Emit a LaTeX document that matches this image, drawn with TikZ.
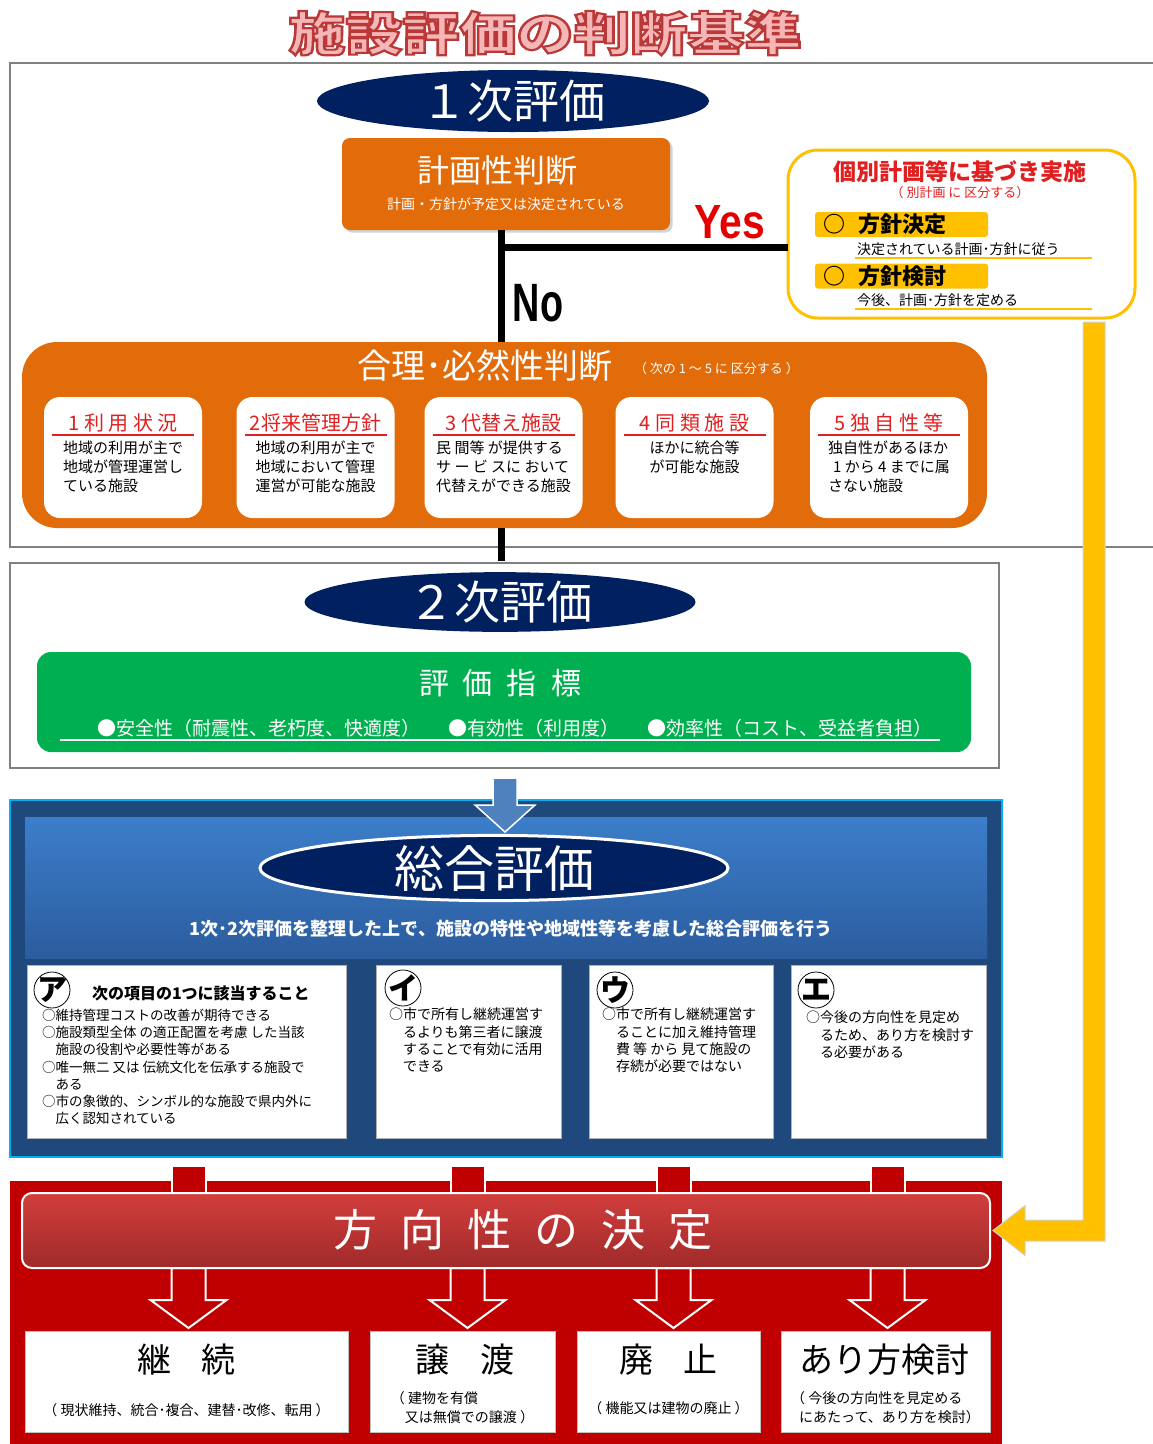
\documentclass[tikz,border=0pt]{standalone}
\usepackage{fontspec}
\setmainfont{Noto Sans CJK JP}
\newfontfamily\latin{Liberation Sans}
\usetikzlibrary{shapes.geometric,shadows,calc,backgrounds}

\newcommand\fsz[1]{\fontsize{#1}{#1}\selectfont}
\newcommand\kgap[1]{\hspace*{#1pt}}
\newcommand\outlined[1]{\special{pdf:literal direct 2 Tr 2.6 w 0.73 0.22 0.22 RG}#1\special{pdf:literal direct 0 Tr}}

\definecolor{navy}{RGB}{0,32,96}
\definecolor{planorange}{RGB}{227,108,10}
\definecolor{plangold}{RGB}{255,192,0}
\definecolor{markred}{RGB}{224,32,32}
\definecolor{indexgreen}{RGB}{0,176,80}
\definecolor{synthdark}{RGB}{31,73,125}
\definecolor{synthcyan}{RGB}{0,176,240}
\definecolor{synthtop}{RGB}{60,126,202}
\definecolor{synthbot}{RGB}{43,92,158}
\definecolor{arrowblue}{RGB}{79,129,189}
\definecolor{decidered}{RGB}{192,0,0}
\definecolor{bannertop}{RGB}{210,62,60}
\definecolor{bannerbot}{RGB}{160,42,42}
\definecolor{titlepink}{RGB}{244,182,182}
\definecolor{framegray}{RGB}{128,128,128}

\begin{document}
\begin{tikzpicture}[x=1pt,y=-1pt]
        \tikzstyle{every node}=[inner sep=0pt, outer sep=0pt]
        \tikzstyle{ovalhead}=[ellipse, fill=navy, text=white, font=\fsz{46}]
        \tikzstyle{trunk}=[line width=7, black]
        \tikzstyle{greyframe}=[draw=framegray, line width=2]
        \tikzstyle{subbox}=[rectangle, rounded corners=16, fill=white, minimum width=158, minimum height=121]
        \tikzstyle{subhead}=[text=markred, font=\fsz{20}]
        \tikzstyle{subbody}=[align=left, anchor=north, font=\fontsize{15}{19}\selectfont]
        \tikzstyle{goldbar}=[rectangle, rounded corners=3, fill=plangold, minimum width=173, minimum height=25]
        \tikzstyle{katabox}=[rectangle, fill=white, draw=gray!60, minimum height=173]
        \tikzstyle{kata}=[circle, draw, line width=0.8, minimum size=36]
        \tikzstyle{katatext}=[align=left, anchor=north west, font=\fontsize{14}{17.3}\selectfont]
        \tikzstyle{resultbox}=[rectangle, fill=white, draw=gray!50, minimum height=101]
        \tikzstyle{resulthead}=[font=\fsz{34}]
        \tikzstyle{resultnote}=[align=left, font=\fontsize{14}{19}\selectfont]
        \tikzstyle{redarrow}=[fill=decidered, draw=white, line width=2]
        \useasboundingbox (0,0) rectangle (1153,1444);

        % title
        \node[font=\bfseries\fsz{57}, yscale=0.82, transform shape, text=titlepink] (title) at (545,33) {\outlined{施設評価の判断基準}};

        % 1st evaluation
        \draw[greyframe] (1153,63) -- (10,63) -- (10,547) -- (1153,547);
        \node[ovalhead, minimum width=392, minimum height=62] (first) at (513,101) {１次評価};
        \node[rectangle, rounded corners=8, fill=planorange, minimum width=328, minimum height=92, drop shadow={opacity=0.35}] (plan) at (506,184) {};
        \node[text=white, font=\fsz{32}] at (497,170) {計画性判断};
        \node[text=white, font=\fsz{14}] at (506,204) {計画・方針が予定又は決定されている};

        \node[rectangle, rounded corners=35, fill=planorange, minimum width=965, minimum height=186] (judge) at (504.5,435) {};
        \node[text=white, font=\fsz{34}] (jtitle) at (485,366) {合理･必然性判断};
        \node[text=white, font=\fsz{13}, anchor=west] (jnote) at (634,369) {（ 次の 1 ～ 5 に 区分する ）};
        \foreach \n/\x/\head/\body in {1/123/{1 利 用 状 況}/{地域の利用が主で\\地域が管理運営し\\ている施設},
                2/315.5/{2将来管理方針}/{地域の利用が主で\\地域において管理\\運営が可能な施設},
                3/503.5/{3 代替え施設}/{民 間等 が提供する\\サ ー ビ スに おいて\\代替えができる施設},
                4/694.5/{4 同 類 施 設}/{ほかに統合等\\が可能な施設},
                5/889/{5 独 自 性 等}/{独自性があるほか\\\kgap{5}1 から 4 までに属\\さない施設}} {
            \node[subbox] (sub\n) at (\x,457.5) {};
            \node[subhead] at (\x,423) {\head};
            \draw[markred, line width=1.5] ($(sub\n.north west)+(8,38)$) -- ($(sub\n.north east)+(-8,38)$);
            \node[subbody] at (\x,441) {\body};
        }

        % yes / no
        \coordinate (stem) at (501,0);
        \coordinate (fork) at (501,247);
        \node[rectangle, rounded corners=30, draw=plangold, line width=3, fill=white, minimum width=347, minimum height=168] (yesbox) at (961.5,234) {};
        \draw[trunk] (plan.south -| stem) -- (judge.north -| stem);
        \draw[trunk] (fork) -- (fork -| yesbox.west);
        \node[font=\latin\bfseries\fsz{48}, text=red!90!black, xscale=0.85, transform shape] (yes) at (730,222) {Yes};
        \node[font=\latin\bfseries\fsz{54}, xscale=0.7, transform shape] (no) at (538,303) {No};

        \node[text=markred, font=\bfseries\fsz{23}] (yestitle) at (960,172) {個別計画等に基づき実施};
        \node[text=markred, font=\fsz{13}] at (960,193) {（ 別計画 に 区分する）};
        \node[goldbar] (decided) at (901.5,224.5) {};
        \node[font=\bfseries\fsz{22}, anchor=west] at (decided.west) {\kgap{8}○\kgap{14}方針決定};
        \node[font=\fsz{14}, anchor=west] (decidednote) at (857,249) {決定されている計画･方針に従う};
        \draw[plangold, line width=1.2] (855,258) -- (1092,258);
        \node[goldbar] (studied) at (901.5,276) {};
        \node[font=\bfseries\fsz{22}, anchor=west] at (studied.west) {\kgap{8}○\kgap{14}方針検討};
        \node[font=\fsz{14}, anchor=west] (studiednote) at (857,300) {今後、計画･方針を定める};
        \draw[plangold, line width=1.2] (855,309) -- (1092,309);

        % 2nd evaluation
        \node[greyframe, rectangle, minimum width=989, minimum height=205] (frametwo) at (504.5,665.5) {};
        \draw[trunk] (judge.south -| stem) -- ([yshift=2]frametwo.north -| stem);
        \node[ovalhead, minimum width=391, minimum height=58] (second) at (500,602) {２次評価};
        \node[rectangle, rounded corners=14, fill=indexgreen, minimum width=934, minimum height=100] (index) at (504,702) {};
        \node[text=white, font=\fsz{30}] at (500,683) {評\kgap{14}価\kgap{14}指\kgap{14}標};
        \node[text=white, font=\fsz{19}] at (515,728) {●安全性（耐震性、老朽度、快適度）\kgap{28}●有効性（利用度）\kgap{28}●効率性（コスト、受益者負担）};
        \draw[white, line width=1.5] ($(index.south west)+(23,-12)$) -- ($(index.south east)+(-31,-12)$);

        % overall evaluation
        \node[rectangle, fill=synthdark, draw=synthcyan, line width=2, minimum width=992, minimum height=357] (synth) at (506,978.5) {};
        \node[rectangle, top color=synthtop, bottom color=synthbot, minimum width=962, minimum height=141] (synthhead) at (506,887.5) {};
        \coordinate (atip) at ($(frametwo.south)+(0.5,64)$);
        \draw[fill=arrowblue, draw=white, line width=1.5] ($(frametwo.south)+(-11.5,10)$) -- ++(0,27) -- ++(-18,0) -- (atip)
            -- ($(frametwo.south)+(30.5,37)$) -- ++(-18,0) -- ++(0,-27) -- cycle;
        \node[ovalhead, draw=white, line width=3, minimum width=468, minimum height=62, font=\fsz{50}] (overall) at (494,868) {総合評価};
        \node[text=white, font=\bfseries\fsz{18}] (overallnote) at (511,929) {1次･2次評価を整理した上で、施設の特性や地域性等を考慮した総合評価を行う};

        \node[katabox, minimum width=319] (boxa) at (186.5,1051.5) {};
        \node[katabox, minimum width=185] (boxi) at (468.5,1051.5) {};
        \node[katabox, minimum width=184] (boxu) at (681,1051.5) {};
        \node[katabox, minimum width=195] (boxe) at (888.5,1051.5) {};
        \node[kata] (ka) at (52,990) {};
        \node[font=\bfseries\fsz{30}] at (ka) {ア};
        \node[kata] (ki) at (403,988) {};
        \node[font=\bfseries\fsz{30}] at (ki) {イ};
        \node[kata] (ku) at (615,990) {};
        \node[font=\bfseries\fsz{30}] at (ku) {ウ};
        \node[kata] (ke) at (816,990) {};
        \node[font=\bfseries\fsz{30}] at (ke) {エ};
        \node[font=\bfseries\fsz{16}, anchor=west] at (92,993) {次の項目の1つに該当すること};
        \node[katatext, font=\fontsize{13.5}{17.2}\selectfont] at (42,1009) {○維持管理コストの改善が期待できる\\○施設類型全体 の適正配置を考慮 した当該\\　施設の役割や必要性等がある\\○唯一無二 又は 伝統文化を伝承する施設で\\　ある\\○市の象徴的、シンボル的な施設で県内外に\\　広く認知されている};
        \node[katatext] at (389,1008) {○市で所有し継続運営す\\　るよりも第三者に譲渡\\　することで有効に活用\\　できる};
        \node[katatext] at (602,1008) {○市で所有し継続運営す\\　ることに加え維持管理\\　費 等 から 見て施設の\\　存続が必要ではない};
        \node[katatext] at (806,1011) {○今後の方向性を見定め\\　るため、あり方を検討す\\　る必要がある};

        % decision
        \node[rectangle, rounded corners=10, top color=bannertop, bottom color=bannerbot, draw=white, line width=2, minimum width=968, minimum height=75] (decide) at (506,1230.5) {};
        \node[text=white, font=\fsz{44}] at (523,1230) {方\kgap{23}向\kgap{23}性\kgap{23}の\kgap{23}決\kgap{23}定};
        \node[resultbox, minimum width=323] (keep) at (186.5,1381.5) {};
        \node[resultbox, minimum width=185] (give) at (462.5,1381.5) {};
        \node[resultbox, minimum width=183] (stop) at (668.5,1381.5) {};
        \node[resultbox, minimum width=209] (review) at (885.5,1381.5) {};
        \begin{pgfonlayer}{background}
            \fill[decidered] (10,1181) rectangle (1002,1444);
            \foreach \b/\dx in {keep/2,give/5,stop/5,review/2} {
                \draw[redarrow] ($(synth.south -| \b.north)+(\dx-17,9)$) rectangle ($(decide.north -| \b.north)+(\dx+17,4)$);
                \draw[redarrow] ($(decide.south -| \b.north)+(\dx-17,0)$) -- ++(0,32) -- ++(-21,0) -- ($(\b.north)+(\dx,-3)$)
                    -- ($(decide.south -| \b.north)+(\dx+38,32)$) -- ++(-21,0) -- ++(0,-32) -- cycle;
            }
        \end{pgfonlayer}
        \node[resulthead] at (186.5,1360) {継\kgap{31}続};
        \node[resultnote] at (186.5,1410) {（ 現状維持、統合･複合、建替･改修、転用 ）};
        \node[resulthead] at (465,1360) {譲\kgap{31}渡};
        \node[resultnote] at (462.5,1407.5) {（ 建物を有償\\\kgap{14}又は無償での譲渡 ）};
        \node[resulthead] at (668.5,1360) {廃\kgap{31}止};
        \node[resultnote] at (668.5,1408) {（ 機能又は建物の廃止 ）};
        \node[resulthead] at (884,1360) {あり方検討};
        \node[resultnote] at (885.5,1407.5) {（ 今後の方向性を見定める\\\kgap{8}にあたって、あり方を検討）};

        % yellow return arrow
        \coordinate (ycol) at (1094,0);
        \coordinate (ytop) at ($(yesbox.south -| ycol)+(0,4)$);
        \coordinate (ytip) at ($(decide.east)+(3,0)$);
        \coordinate (ybend) at (ytip -| ycol);
        \draw[fill=plangold, draw=gray!35, line width=1] (ytip) -- ++(32,-25) -- ++(0,14.5) -- ($(ybend)+(-11,-10.5)$)
            -- ($(ytop)+(-11,0)$) -- ($(ytop)+(11,0)$) -- ($(ybend)+(11,10.5)$) -- ($(ytip)+(32,10.5)$) -- ++(0,14.5) -- cycle;
    \end{tikzpicture}
\end{document}
